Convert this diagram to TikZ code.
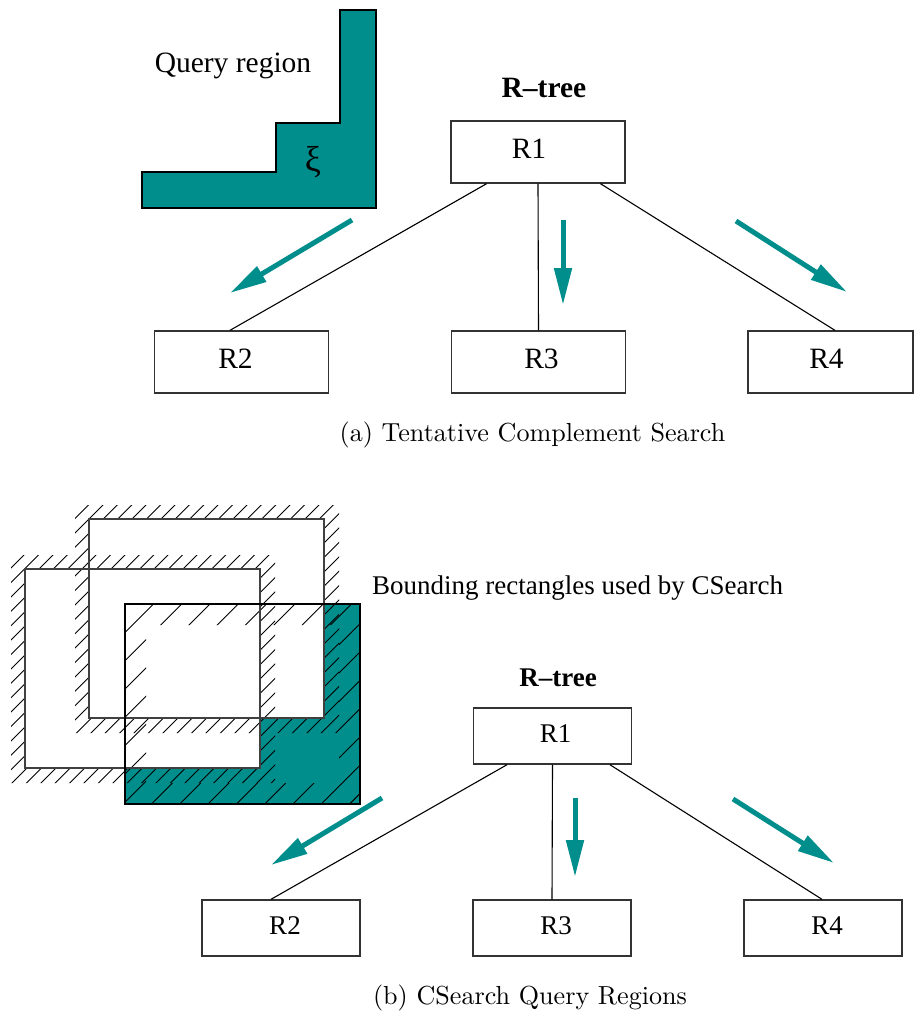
\documentclass[tikz,border=0pt]{standalone}
\usepackage{fontspec}
\setmainfont{Liberation Serif}
\newfontfamily\capfont{Latin Modern Roman}
\usetikzlibrary{arrows.meta,calc}
\definecolor{tealq}{RGB}{0,142,140}

% caption text: 10pt design size, enlarged
\newcommand{\captext}[1]{\scalebox{2.61}{\capfont\fontsize{10}{12}\selectfont #1}}

\tikzset{
  box/.style={draw=black!80, line width=1.3pt, inner sep=0pt,
    text height=19pt, text depth=6pt},
  topbox/.style={box, font=\fontsize{29.5}{32}\selectfont,
    minimum width=174pt, minimum height=62pt},
  botbox/.style={box, font=\fontsize{27}{30}\selectfont,
    minimum width=158pt, minimum height=56pt},
  edge/.style={draw=black, line width=1.1pt},
  flow/.style={draw=tealq, line width=5pt,
    -{Triangle[length=37pt,width=17pt,fill=tealq]}},
  hatch/.style={draw=black, line width=0.9pt},
  rectline/.style={draw=black!75, line width=1.3pt},
  toptext/.style={inner sep=0pt, font=\fontsize{29.5}{32}\selectfont},
  bottext/.style={inner sep=0pt, font=\fontsize{27}{30}\selectfont},
  caption/.style={inner sep=0pt},
}

\begin{document}
\begin{tikzpicture}[x=1pt,y=-1pt]
\useasboundingbox (0,0) rectangle (914,1012);

% ---------- (a) tentative complement search ----------
\draw[line width=1.2pt, fill=tealq]
  (142,172) -- (276,172) -- (276,123) -- (340,123) -- (340,10)
  -- (376,10) -- (376,208) -- (142,208) -- cycle;
\node[toptext, anchor=base] (qlabel) at (233,72) {Query region};
\node[inner sep=0pt, font=\fontsize{36}{38}\selectfont] (xi) at (313,162) {ξ};

\node[toptext, anchor=base, font=\fontsize{29.5}{32}\selectfont\bfseries]
  (treea) at (544,97) {R--tree};

\node[topbox] (r1a) at (538,152) {R1\kern18pt};
\node[topbox] (r2a) at (241.5,362) {R2\kern12pt};
\node[topbox] (r3a) at (538.5,362) {\kern6pt R3};
\node[topbox, minimum width=165pt] (r4a) at (830.5,362) {R4\kern8pt};

\draw[edge] ($(r1a.south west)!0.207!(r1a.south east)$)
  -- ($(r2a.north west)!0.434!(r2a.north east)$);
\draw[edge] (r1a.south) -- (r3a.north);
\draw[edge] ($(r1a.south west)!0.856!(r1a.south east)$)
  -- ($(r4a.north west)!0.527!(r4a.north east)$);

\coordinate (a1s) at (352,220);  \coordinate (a1e) at (230,293);
\coordinate (a2s) at (563,220);  \coordinate (a2e) at (563,305);
\coordinate (a3s) at (736,221);  \coordinate (a3e) at (847,292);
\draw[flow] (a1s) -- (a1e);
\draw[flow] (a2s) -- (a2e);
\draw[flow] (a3s) -- (a3e);

\node[caption, anchor=base] (capa) at (532.5,441)
  {\captext{(a) Tentative Complement Search}};

% ---------- (b) CSearch query regions ----------
% part of the query rectangle outside both bounding rectangles
\fill[tealq] (324,604) -- (360,604) -- (360,804) -- (125,804) -- (125,768)
  -- (260,768) -- (260,718) -- (324,718) -- cycle;

% hatched borders outside the two bounding rectangles
\begin{scope}
  \clip (11,555) rectangle (275,569) (11,768) rectangle (275,783)
        (11,569) rectangle (25,768) (260,569) rectangle (275,768)
        (75,505) rectangle (339,519) (75,718) rectangle (339,733)
        (75,519) rectangle (89,718) (324,519) rectangle (339,718);
  \foreach \k in {0,...,38} {
    \pgfmathsetmacro\c{550.3+14.4*\k}
    \draw[hatch] (\c-795,795) -- (\c-500,500);
  }
\end{scope}

% hatched border inside the query rectangle
\begin{scope}
  \clip (125,604) rectangle (360,625) (125,783) rectangle (360,804)
        (125,625) rectangle (146,783) (339,625) rectangle (360,783);
  \foreach \k in {0,...,17} {
    \pgfmathsetmacro\c{729.1+28.3*\k}
    \draw[hatch] (\c-810,810) -- (\c-600,600);
  }
\end{scope}

\draw[rectline] (25,569) rectangle (260,768);
\draw[rectline] (89,519) rectangle (324,718);
\draw[rectline, draw=black] (125,604) rectangle (360,804);

\node[bottext, anchor=base west] (blabel) at (372,594)
  {Bounding rectangles used by CSearch};

\node[bottext, anchor=base, font=\fontsize{27}{30}\selectfont\bfseries]
  (treeb) at (558,686) {R--tree};

\node[botbox] (r1b) at (552.5,736) {\kern6pt R1};
\node[botbox] (r2b) at (281,928) {\kern8pt R2};
\node[botbox] (r3b) at (552,928) {\kern8pt R3};
\node[botbox] (r4b) at (823,928) {\kern8pt R4};

\draw[edge] ($(r1b.south west)!0.215!(r1b.south east)$)
  -- ($(r2b.north west)!0.437!(r2b.north east)$);
\draw[edge] (r1b.south) -- (r3b.north);
\draw[edge] ($(r1b.south west)!0.86!(r1b.south east)$)
  -- ($(r4b.north west)!0.494!(r4b.north east)$);

\coordinate (b1s) at (382,798);  \coordinate (b1e) at (271,865);
\coordinate (b2s) at (575,798);  \coordinate (b2e) at (575,877);
\coordinate (b3s) at (733,799);  \coordinate (b3e) at (834,863);
\draw[flow] (b1s) -- (b1e);
\draw[flow] (b2s) -- (b2e);
\draw[flow] (b3s) -- (b3e);

\node[caption, anchor=base] (capb) at (530,1004)
  {\captext{(b) CSearch Query Regions}};
\end{tikzpicture}
\end{document}
